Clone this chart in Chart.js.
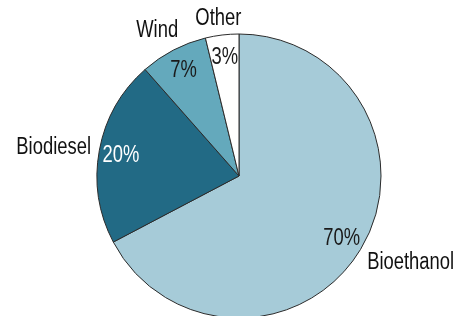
<!DOCTYPE html>
<html lang="en">
<head>
  <meta charset="UTF-8" />
  <title>Renewable fuel shares</title>
  <script src="https://cdn.jsdelivr.net/npm/chart.js"></script>
  <style>
    body {
      margin: 0;
      padding: 0;
      background: white;
    }
    #wrap {
      width: 464px;
      height: 316px;
    }
  </style>
</head>
<body>
  <div id="wrap">
    <canvas id="pieChart" width="464" height="316"></canvas>
  </div>

  <script>
    // data
    const categories = ['Bioethanol', 'Biodiesel', 'Wind', 'Other'];
    const shares = [67.3, 21.2, 7.7, 3.8];
    const shareLabels = ['70%', '20%', '7%', '3%'];

    const sliceColors = ['#a6cbd8', '#226a85', '#64a9bc', '#ffffff'];
    const pctColors = ['#1a1a1a', '#ffffff', '#1a1a1a', '#1a1a1a'];
    const labelFont = '23px "Liberation Sans", Arial, sans-serif';
    const squeeze = 0.8; // the original uses a narrow face, so squash the text a bit

    function narrowText(ctx, text, cx, cy) {
      ctx.save();
      ctx.translate(cx, cy);
      ctx.scale(squeeze, 1);
      ctx.fillText(text, 0, 0);
      ctx.restore();
    }

    // draws the percentages inside and the names outside each slice
    const sliceLabels = {
      id: 'sliceLabels',
      afterDatasetsDraw(chart) {
        const ctx = chart.ctx;
        const arcs = chart.getDatasetMeta(0).data;
        ctx.save();
        ctx.font = labelFont;
        ctx.textAlign = 'center';
        ctx.textBaseline = 'middle';
        arcs.forEach((arc, i) => {
          const p = arc.getProps(['x', 'y', 'startAngle', 'endAngle', 'outerRadius'], true);
          const mid = (p.startAngle + p.endAngle) / 2;
          const cos = Math.cos(mid);
          const sin = Math.sin(mid);

          // percentage
          const rIn = p.outerRadius * 0.845;
          ctx.fillStyle = pctColors[i];
          narrowText(ctx, shareLabels[i], p.x + cos * rIn, p.y + sin * rIn + 1);

          // category name, pushed a bit further out on the diagonals
          const diag = Math.abs(Math.sin(2 * mid));
          const rOut = p.outerRadius + 8 + 9 * diag * diag;
          const ax = p.x + cos * rOut;
          const ay = p.y + sin * rOut;
          const w = ctx.measureText(categories[i]).width * squeeze;
          const h = 17;
          ctx.fillStyle = '#111111';
          narrowText(ctx, categories[i], ax + cos * w / 2, ay + sin * h / 2 + 1);
        });
        ctx.restore();
      }
    };

    new Chart(document.getElementById('pieChart'), {
      type: 'pie',
      data: {
        labels: categories,
        datasets: [{
          data: shares,
          backgroundColor: sliceColors,
          borderColor: '#2b2b2b',
          borderWidth: 1,
          radius: 142
        }]
      },
      options: {
        responsive: false,
        animation: false,
        layout: {
          padding: { top: 36, bottom: 0, left: 14, right: 0 }
        },
        plugins: {
          legend: { display: false },
          tooltip: { enabled: false }
        }
      },
      plugins: [sliceLabels]
    });
  </script>
</body>
</html>
